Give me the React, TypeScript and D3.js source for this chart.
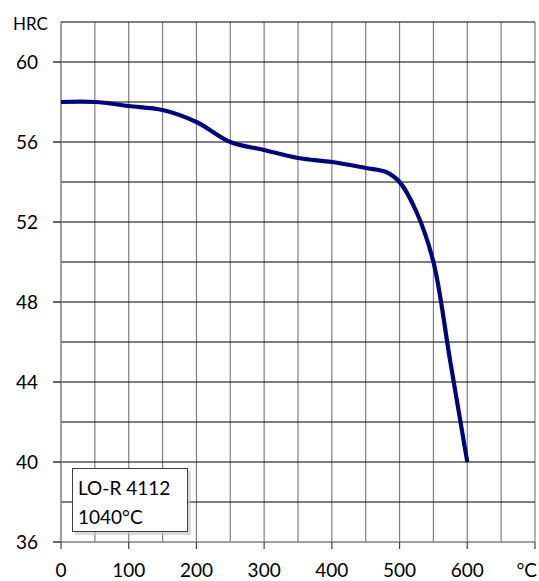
import { useEffect, useRef } from 'react';
import * as d3 from 'd3';

// Hardness vs tempering temperature
const temps = [0, 50, 100, 150, 200, 250, 300, 350, 400, 450, 480, 500, 525, 550, 575, 600];
const hardness = [58.0, 58.0, 57.8, 57.6, 57.0, 56.0, 55.6, 55.2, 55.0, 54.7, 54.5, 54.0, 52.5, 50.0, 45.0, 40.0];

const xTicks = [0, 100, 200, 300, 400, 500, 600];
const yTicks = [36, 40, 44, 48, 52, 56, 60];
const legendLines = ['LO-R 4112', '1040°C'];

const W = 539;
const H = 581;
const FONT = 'Lato, "Open Sans", sans-serif';

export default function App() {
    const svgRef = useRef<SVGSVGElement>(null);

    useEffect(() => {
        if (!svgRef.current) return;
        const svg = d3.select(svgRef.current);
        svg.selectAll('*').remove();

        const x = d3.scaleLinear().domain([0, 700]).range([61, 535]);
        const y = d3.scaleLinear().domain([36, 62]).range([542, 22]);

        svg.append('rect').attr('width', W).attr('height', H).attr('fill', 'white');

        // vertical grid (every 50)
        svg.append('g')
            .selectAll('line')
            .data(d3.range(50, 701, 50))
            .enter()
            .append('line')
            .attr('x1', d => x(d)).attr('x2', d => x(d))
            .attr('y1', y(62)).attr('y2', y(36))
            .attr('stroke', '#808080')
            .attr('stroke-width', 1.2);

        // horizontal grid (every 2)
        svg.append('g')
            .selectAll('line')
            .data(d3.range(38, 63, 2))
            .enter()
            .append('line')
            .attr('x1', x(0)).attr('x2', x(700))
            .attr('y1', d => y(d)).attr('y2', d => y(d))
            .attr('stroke', '#000')
            .attr('stroke-width', 1.2);

        // axes lines
        svg.append('line')
            .attr('x1', x(0)).attr('x2', x(0)).attr('y1', y(62)).attr('y2', y(36))
            .attr('stroke', '#808080').attr('stroke-width', 1.5);
        svg.append('line')
            .attr('x1', x(0)).attr('x2', x(700)).attr('y1', y(36)).attr('y2', y(36))
            .attr('stroke', '#808080').attr('stroke-width', 1.5);

        // y ticks + labels
        svg.append('g')
            .selectAll('line')
            .data(yTicks)
            .enter()
            .append('line')
            .attr('x1', x(0) - 8).attr('x2', x(0))
            .attr('y1', d => y(d)).attr('y2', d => y(d))
            .attr('stroke', '#000').attr('stroke-width', 1.2);
        svg.append('g')
            .selectAll('text')
            .data(yTicks)
            .enter()
            .append('text')
            .attr('x', 38)
            .attr('y', d => y(d) + 7)
            .attr('text-anchor', 'end')
            .attr('font-family', FONT)
            .attr('font-size', 19)
            .text(d => d);

        // x ticks + labels
        svg.append('g')
            .selectAll('line')
            .data([...xTicks, 700])
            .enter()
            .append('line')
            .attr('x1', d => x(d)).attr('x2', d => x(d))
            .attr('y1', y(36)).attr('y2', y(36) + 7)
            .attr('stroke', '#404040').attr('stroke-width', 1.2);
        svg.append('g')
            .selectAll('text')
            .data(xTicks)
            .enter()
            .append('text')
            .attr('x', d => x(d))
            .attr('y', 577)
            .attr('text-anchor', 'middle')
            .attr('font-family', FONT)
            .attr('font-size', 19)
            .text(d => d);
        svg.append('text')
            .attr('x', 537).attr('y', 577)
            .attr('text-anchor', 'end')
            .attr('font-family', FONT)
            .attr('font-size', 19)
            .text('°C');

        svg.append('text')
            .attr('x', 13).attr('y', 30)
            .attr('font-family', FONT)
            .attr('font-size', 17)
            .text('HRC');

        // curve
        const line = d3.line<number>()
            .x((_d, i) => x(temps[i]))
            .y(d => y(d))
            .curve(d3.curveCatmullRom.alpha(0.5));
        svg.append('path')
            .datum(hardness)
            .attr('d', line)
            .attr('fill', 'none')
            .attr('stroke', '#000080')
            .attr('stroke-width', 4.2)
            .attr('stroke-linejoin', 'round');

        // legend box with shadow
        const lg = svg.append('g');
        lg.append('rect')
            .attr('x', 75).attr('y', 471).attr('width', 116).attr('height', 64)
            .attr('fill', '#bfbfbf').attr('opacity', 0.6);
        lg.append('rect')
            .attr('x', 72.5).attr('y', 468.5).attr('width', 115).attr('height', 63)
            .attr('fill', 'white').attr('stroke', '#404040').attr('stroke-width', 1);
        lg.selectAll('text.lg')
            .data(legendLines)
            .enter()
            .append('text')
            .attr('x', 78)
            .attr('y', (_d, i) => 495 + i * 28.5)
            .attr('font-family', FONT)
            .attr('font-size', 19)
            .text(d => d);
    }, []);

    return (
        <svg
            ref={svgRef}
            width={W}
            height={H}
            style={{ position: 'absolute', left: 0, top: 0 }}
        />
    );
}
